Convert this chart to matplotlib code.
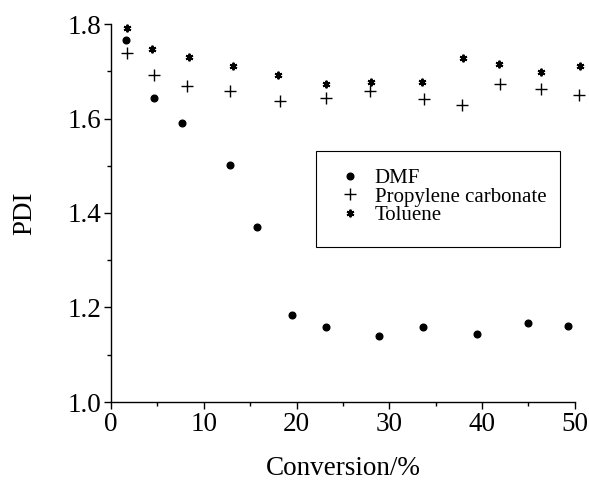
import matplotlib
matplotlib.use("Agg")
import matplotlib.pyplot as plt
from matplotlib.ticker import MultipleLocator, FormatStrFormatter
from matplotlib.patches import Rectangle

plt.rcParams['font.family'] = ['Liberation Serif', 'DejaVu Serif']

dmf_x = [1.6, 4.6, 7.6, 12.8, 15.7, 19.5, 23.2, 28.9, 33.6, 39.4, 44.9, 49.3]
dmf_y = [1.766, 1.644, 1.590, 1.502, 1.371, 1.184, 1.159, 1.139, 1.159, 1.143, 1.167, 1.161]

pc_x = [1.7, 4.6, 8.2, 12.8, 18.2, 23.2, 27.9, 33.7, 37.8, 41.9, 46.4, 50.4]
pc_y = [1.738, 1.693, 1.669, 1.658, 1.636, 1.644, 1.658, 1.641, 1.629, 1.674, 1.662, 1.649]

tol_x = [1.7, 4.4, 8.4, 13.2, 18.0, 23.2, 28.0, 33.5, 37.9, 41.8, 46.4, 50.5]
tol_y = [1.791, 1.747, 1.731, 1.711, 1.692, 1.674, 1.677, 1.677, 1.727, 1.715, 1.698, 1.711]

labels = ["DMF", "Propylene carbonate", "Toluene"]

fig = plt.figure(figsize=(5.89, 4.80), dpi=100)
ax = fig.add_axes([0.1885, 0.1625, 0.7875, 0.7875])

ax.plot(dmf_x, dmf_y, linestyle='none', marker='o', ms=4.8, color='black', label=labels[0], clip_on=False)
ax.plot(pc_x, pc_y, linestyle='none', marker='+', ms=8, mew=1.0, color='black', label=labels[1], clip_on=False)
ax.plot(tol_x, tol_y, linestyle='none', marker=(6, 2, 0), ms=5.5, mew=1.4, color='black', label=labels[2], clip_on=False)

ax.set_xlim(0, 50)
ax.set_ylim(1.0, 1.8)
ax.xaxis.set_major_locator(MultipleLocator(10))
ax.xaxis.set_minor_locator(MultipleLocator(5))
ax.yaxis.set_major_locator(MultipleLocator(0.2))
ax.yaxis.set_minor_locator(MultipleLocator(0.1))
ax.yaxis.set_major_formatter(FormatStrFormatter('%.1f'))

for s in ['top', 'right']:
    ax.spines[s].set_visible(False)
for s in ['left', 'bottom']:
    ax.spines[s].set_linewidth(1.0)

ax.tick_params(which='major', direction='out', length=5, width=1.0, labelsize=19.5, pad=2)
ax.tick_params(which='minor', direction='out', length=3, width=1.0)

ax.set_xlabel("Conversion/%", fontsize=19.5, labelpad=14)
ax.set_ylabel("PDI", fontsize=19.5, labelpad=22)

# legend frame
ax.add_patch(Rectangle((0.442, 0.410), 0.526, 0.254, transform=ax.transAxes,
                       facecolor='white', edgecolor='black', linewidth=0.8, zorder=4))
leg = ax.legend(loc='upper left', bbox_to_anchor=(0.4655, 0.618), fontsize=15,
                frameon=False, handlelength=2.2, handletextpad=0.1,
                labelspacing=-0.05, borderpad=0, borderaxespad=0)
leg.set_zorder(5)

fig.savefig("out.png", dpi=100)
